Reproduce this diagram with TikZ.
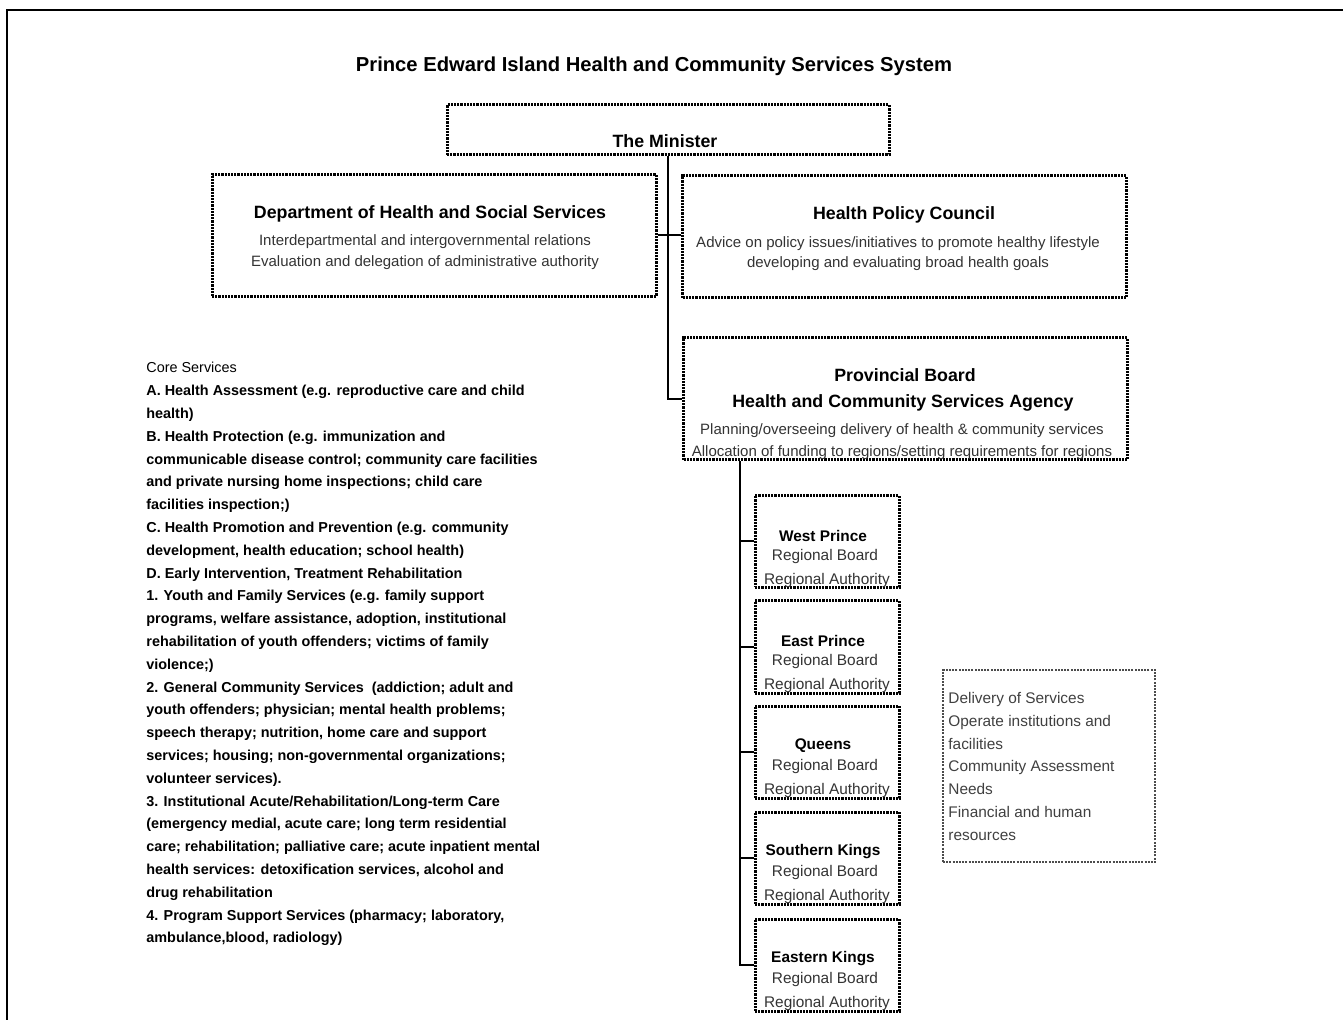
\documentclass[tikz,border=0pt]{standalone}
\usepackage{fontspec}
\setmainfont{Liberation Sans}
\usetikzlibrary{positioning}
\tikzset{box/.style = {draw, line width=1.5pt, dash pattern=on 1.1pt off 0.5pt, inner sep=0pt},
         big/.style = {box, minimum width=222pt, minimum height=61pt},
         reg/.style = {box, minimum width=72pt, minimum height=46pt},
         head/.style = {inner sep=0pt, font=\bfseries\fontsize{8.9}{10}\selectfont},
         desc/.style = {inner sep=0pt, align=center, text=black!80},
         lnk/.style = {line width=1pt}}

\begin{document}
\begin{tikzpicture}[x=0.5pt, y=-0.5pt]
    \useasboundingbox (0,0) rectangle (1343,1020);
    \draw[line width=1pt] (7,1020) -- (7,10) -- (1343,10);
    \node[inner sep=0pt, font=\bfseries\fontsize{10.1}{12}\selectfont] (title) at (654,66) {Prince Edward Island Health and Community Services System};
    % top level
    \node[box, minimum width=221pt, minimum height=25pt] (min) at (668,130) {};
    \node[head] (mintxt) at (665,141) {The Minister};
    \node[big] (dept) at (434,235.5) {};
    \node[head] (depthd) at (430,214) {Department of Health and Social Services};
    \node[desc, font=\fontsize{7.5}{10.5}\selectfont] (deptds) at (425,252.5) {Interdepartmental and intergovernmental relations\\Evaluation and delegation of administrative authority};
    \node[big] (hpc) at (904.5,237) {};
    \node[head] (hpchd) at (904,215) {Health Policy Council};
    \node[desc, font=\fontsize{7.5}{10}\selectfont] (hpcds) at (898,254) {Advice on policy issues/initiatives to promote healthy lifestyle\\developing and evaluating broad health goals};
    \node[big] (pb) at (905.5,399) {};
    \node[head] (pbhd) at (905,375) {Provincial Board};
    \node[head] (pbag) at (903,403) {Health and Community Services Agency};
    \node[desc, font=\fontsize{7.5}{11}\selectfont] (pbds) at (902,442) {Planning/overseeing delivery of health \& community services\\Allocation of funding to regions/setting requirements for regions};
    \draw[lnk] (min.south) -- (min.south |- pb.west) -- (pb.west);
    \draw[lnk] (dept.east) -- (dept.east -| hpc.west);
    % regions
    \foreach \n/\y/\name in {wp/541.5/West Prince, ep/647/East Prince, qu/752/Queens, sk/858/Southern Kings, ek/965/Eastern Kings}{
      \node[reg] (\n) at (827,\y) {};
      \node[head, font=\bfseries\fontsize{7.7}{9}\selectfont] (\n-a) at (823,\y-6) {\name};
      \node[desc, font=\fontsize{7.7}{9}\selectfont] (\n-b) at (825,\y+15) {Regional Board};
      \node[desc, font=\fontsize{7.7}{9}\selectfont] (\n-c) at (827,\y+39) {Regional Authority};
    }
    \draw[lnk] ([xshift=29pt]pb.south west) -- ([xshift=29pt]pb.south west |- ek.west) -- (ek.west);
    \foreach \n in {wp,ep,qu,sk}
      \draw[lnk] (\n.west) -- ++(-14,0);
    % regional tasks
    \node[draw=black!70, line width=0.8pt, dash pattern=on 1pt off 0.6pt, minimum width=106pt, minimum height=96pt] (tasks) at (1049,766) {};
    \node[anchor=north west, inner sep=0pt, align=left, text=black!75, font=\fontsize{7.7}{11.4}\selectfont] (tasktxt) at (948,692)
      {Delivery of Services\\Operate institutions and\\facilities\\Community Assessment\\Needs\\Financial and human\\resources};
    % core services
    \node[anchor=north west, inner sep=0pt, align=left, font=\bfseries\fontsize{7.2}{11.4}\selectfont] (core) at (146,362)
      {\mdseries Core Services\\
       A. Health Assessment (e.g. reproductive care and child\\
       health)\\
       B. Health Protection (e.g. immunization and\\
       communicable disease control; community care facilities\\
       and private nursing home inspections; child care\\
       facilities inspection;)\\
       C. Health Promotion and Prevention (e.g. community\\
       development, health education; school health)\\
       D. Early Intervention, Treatment Rehabilitation\\
       1. Youth and Family Services (e.g. family support\\
       programs, welfare assistance, adoption, institutional\\
       rehabilitation of youth offenders; victims of family\\
       violence;)\\
       2. General Community Services\ \ (addiction; adult and\\
       youth offenders; physician; mental health problems;\\
       speech therapy; nutrition, home care and support\\
       services; housing; non-governmental organizations;\\
       volunteer services).\\
       3. Institutional Acute/Rehabilitation/Long-term Care\\
       (emergency medial, acute care; long term residential\\
       care; rehabilitation; palliative care; acute inpatient mental\\
       health services: detoxification services, alcohol and\\
       drug rehabilitation\\
       4. Program Support Services (pharmacy; laboratory,\\
       ambulance,blood, radiology)};
\end{tikzpicture}
\end{document}
